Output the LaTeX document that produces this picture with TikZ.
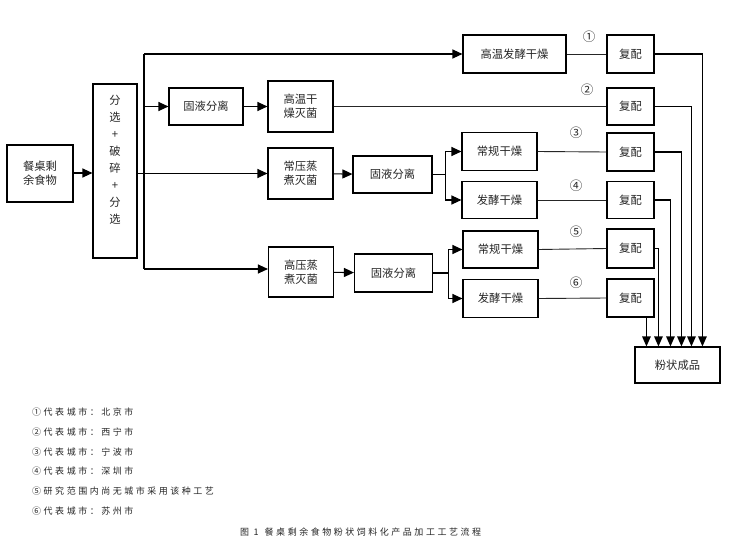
\documentclass[tikz,border=0pt]{standalone}
\usepackage{fontspec}
\newfontfamily\cjk{Noto Sans CJK SC}
\newfontfamily\cjksp[LetterSpace=28]{Noto Sans CJK SC}
\usetikzlibrary{arrows.meta}
\tikzset{
  box/.style={draw, line width=1.1pt, font=\cjk\fontsize{11.3}{14}\selectfont, align=center, inner sep=0pt, text=black!85},
  arr/.style={-{Triangle[length=10pt,width=9pt]}, line width=1.1pt},
  ln/.style={line width=0.9pt, draw=black!85},
  lnarr/.style={-{Triangle[length=10pt,width=8.5pt]}, line width=1.1pt},
  num/.style={font=\cjk\fontsize{12.5}{12.5}\selectfont, text=black!85},
  legend/.style={anchor=west, font=\cjksp\fontsize{9}{10}\selectfont, text=black!85, inner sep=0pt}
}
\begin{document}
\begin{tikzpicture}[x=1pt,y=-1pt]
\useasboundingbox (0,0) rectangle (729,541);
\fill[white] (0,0) rectangle (729,541);

% boxes
\node[box, minimum width=66pt, minimum height=57pt] (food) at (40,173.5) {餐桌剩\\余食物};
\node[box, minimum width=44pt, minimum height=174pt] (sel) at (115,171) {};
\node[font=\cjk\fontsize{11.3}{17}\selectfont, align=center, text=black!85, inner sep=0pt] (seltxt) at (115,160) {分\\选\\+\\破\\碎\\+\\分\\选};
\node[box, minimum width=74pt, minimum height=37pt] (sl1) at (206,106.5) {固液分离};
\node[box, minimum width=65pt, minimum height=51pt] (htd) at (300.5,106.5) {高温干\\燥灭菌};
\node[box, minimum width=65pt, minimum height=51pt] (aps) at (300.5,173.5) {常压蒸\\煮灭菌};
\node[box, minimum width=65pt, minimum height=50pt] (hps) at (301,272) {高压蒸\\煮灭菌};
\node[box, minimum width=103pt, minimum height=38pt] (htf) at (514.5,54) {高温发酵干燥};
\node[box, minimum width=79pt, minimum height=37pt] (sl2) at (392.5,174.5) {固液分离};
\node[box, minimum width=78pt, minimum height=38pt] (sl3) at (393.5,273) {固液分离};
\node[box, minimum width=75pt, minimum height=38pt] (cd3) at (499.5,151.5) {常规干燥};
\node[box, minimum width=75pt, minimum height=37pt] (fd4) at (499.5,200) {发酵干燥};
\node[box, minimum width=75pt, minimum height=37pt] (cd5) at (500.5,249.5) {常规干燥};
\node[box, minimum width=75pt, minimum height=38pt] (fd6) at (500.5,298.5) {发酵干燥};
\node[box, minimum width=47pt, minimum height=38pt] (fp1) at (630.5,54) {复配};
\node[box, minimum width=47pt, minimum height=37pt] (fp2) at (630.5,106.5) {复配};
\node[box, minimum width=47pt, minimum height=38pt] (fp3) at (630.5,152) {复配};
\node[box, minimum width=47pt, minimum height=37pt] (fp4) at (630.5,200) {复配};
\node[box, minimum width=47pt, minimum height=39pt] (fp5) at (630.5,248.5) {复配};
\node[box, minimum width=47pt, minimum height=38pt] (fp6) at (630.5,298) {复配};
\node[box, minimum width=85pt, minimum height=36pt] (prod) at (677.5,365) {粉状成品};

% circled numbers
\node[num] (n1) at (589,37) {①};
\node[num] (n2) at (587,90) {②};
\node[num] (n3) at (576,133) {③};
\node[num] (n4) at (576,186) {④};
\node[num] (n5) at (576,232) {⑤};
\node[num] (n6) at (576,283) {⑥};

% trunk
\coordinate (tTop) at (144,54);
\coordinate (tBot) at (144,269);
\draw[line width=1.1pt] (tTop) -- (tBot);
\draw[arr] (food.east |- 0,173) -- (sel.west |- 0,173);
\draw[arr] (tTop) -- (htf.west);
\draw[arr] (tTop |- sl1.west) -- (sl1.west);
\draw[arr] (sel.east |- aps.west) -- (aps.west);
\draw[arr] (tBot) -- (tBot -| hps.west);
\draw[arr] (sl1) -- (htd);
\draw[arr] (aps) -- (sl2);
\draw[arr] (hps) -- (sl3);

% branches
\draw[arr] (sl2.east) -- ++(13,0) |- (cd3.west);
\draw[arr] (sl2.east) -- ++(13,0) |- (fd4.west);
\draw[arr] (sl3.east) -- ++(15,0) |- (cd5.west);
\draw[arr] (sl3.east) -- ++(15,0) |- (fd6.west);

% to blending
\draw[ln] (htf.east) -- (fp1.west);
\draw[ln] (htd.east) -- (fp2.west);
\draw[ln] (cd3.east) -- (fp3.west);
\draw[ln] (fd4.east) -- (fp4.west);
\draw[ln] (cd5.east) -- (fp5.west);
\draw[ln] (fd6.east) -- (fp6.west);

% to product
\coordinate (x1) at ([xshift=68pt]prod.north west);
\coordinate (x2) at ([xshift=57pt]prod.north west);
\coordinate (x3) at ([xshift=47pt]prod.north west);
\coordinate (x4) at ([xshift=36pt]prod.north west);
\coordinate (x5) at ([xshift=24pt]prod.north west);
\coordinate (x6) at ([xshift=12pt]prod.north west);
\draw[lnarr] (fp1.east) -| (x1);
\draw[lnarr] (fp2.east) -| (x2);
\draw[lnarr] (fp3.east) -| (x3);
\draw[lnarr] (fp4.east) -| (x4);
\draw[lnarr] (fp5.east) -| (x5);
\draw[lnarr] (fp6.south -| x6) -- (x6);

% legend
\node[legend] (l1) at (32,412) {①代表城市：北京市};
\node[legend] (l2) at (32,431.8) {②代表城市：西宁市};
\node[legend] (l3) at (32,451.6) {③代表城市：宁波市};
\node[legend] (l4) at (32,471.4) {④代表城市：深圳市};
\node[legend] (l5) at (32,491.2) {⑤研究范围内尚无城市采用该种工艺};
\node[legend] (l6) at (32,511) {⑥代表城市：苏州市};
\node[legend] (cap) at (240,532) {图 1\hspace{6pt}餐桌剩余食物粉状饲料化产品加工工艺流程};
\end{tikzpicture}
\end{document}
